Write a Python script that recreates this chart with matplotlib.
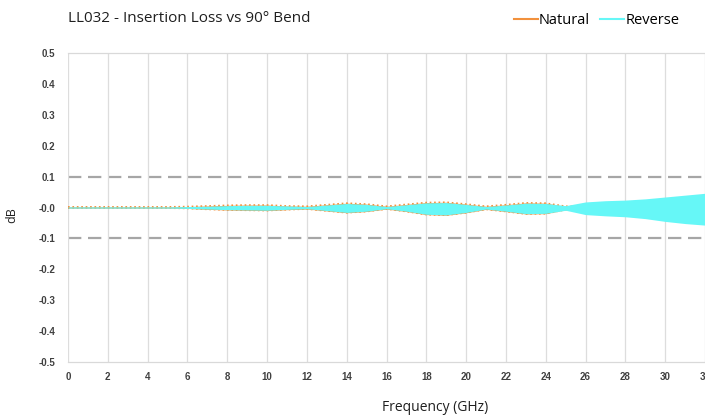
import numpy as np
import matplotlib
matplotlib.use('Agg')
import matplotlib.pyplot as plt

freq = list(range(0, 33))
nat_hi = [0.002, 0.002, 0.002, 0.002, 0.002, 0.002, 0.003, 0.005, 0.007, 0.008, 0.008,
          0.005, 0.004, 0.009, 0.014, 0.011, 0.004, 0.010, 0.016, 0.017, 0.011,
          0.004, 0.009, 0.015, 0.014, 0.004, 0.003, 0.004, 0.004, 0.006, 0.008, 0.010, 0.012]
nat_lo = [-0.002, -0.002, -0.002, -0.002, -0.002, -0.002, -0.003, -0.006, -0.008, -0.009, -0.010,
          -0.007, -0.005, -0.011, -0.017, -0.013, -0.005, -0.013, -0.023, -0.025, -0.017,
          -0.006, -0.013, -0.021, -0.020, -0.007, -0.012, -0.014, -0.015, -0.017, -0.020, -0.022, -0.025]
rev_hi = [0.002, 0.002, 0.002, 0.002, 0.002, 0.002, 0.003, 0.004, 0.006, 0.007, 0.007,
          0.005, 0.003, 0.008, 0.013, 0.010, 0.003, 0.009, 0.015, 0.016, 0.010,
          0.003, 0.008, 0.014, 0.013, 0.006, 0.018, 0.022, 0.024, 0.028, 0.034, 0.040, 0.046]
rev_lo = [-0.002, -0.002, -0.002, -0.002, -0.002, -0.002, -0.003, -0.005, -0.007, -0.008, -0.009,
          -0.006, -0.004, -0.010, -0.016, -0.012, -0.004, -0.012, -0.022, -0.024, -0.016,
          -0.005, -0.012, -0.020, -0.019, -0.009, -0.023, -0.027, -0.030, -0.036, -0.045, -0.052, -0.057]
limits = [0.1, -0.1]

orange = '#F2913D'
cyan = '#66F7F7'
font = 'Open Sans'

fig = plt.figure(figsize=(7.05, 4.19), dpi=100)
ax = fig.add_axes([68/705, 57/419, 1 - 68/705, 309/419])

ax.fill_between(freq, nat_lo, nat_hi, color=orange, linewidth=0, zorder=2)
ax.plot(freq, nat_hi, color=orange, linewidth=1.2, linestyle=':', zorder=2.5)
ax.plot(freq, nat_lo, color=orange, linewidth=1.2, linestyle=':', zorder=2.5)
ax.fill_between(freq, rev_lo, rev_hi, color=cyan, linewidth=0, zorder=3)

for y in limits:
    ax.axhline(y, color='#A6A6A6', linewidth=1.6, dashes=(6, 3), zorder=1)

# legend proxies
p1, = ax.plot([], [], color=orange, linewidth=1.5)
p2, = ax.plot([], [], color=cyan, linewidth=1.5)
fig.legend([p1, p2], ['Natural', 'Reverse'], loc='center right', bbox_to_anchor=(0.982, 0.952),
           ncol=2, frameon=False, handlelength=1.6, handletextpad=0.1, columnspacing=0.7,
           prop={'family': font, 'size': 10.5})

ax.set_xlim(0, 32)
ax.set_ylim(-0.5, 0.5)
ax.set_xticks(range(0, 33, 2))
ax.set_yticks(np.round(np.arange(-0.5, 0.51, 0.1), 1))
ax.set_yticklabels(['%.1f' % v for v in np.round(np.arange(-0.5, 0.51, 0.1), 1)])
ax.tick_params(length=0, labelsize=7, colors='#404040')
ax.tick_params(axis='y', pad=9)
ax.tick_params(axis='x', pad=7)
for lbl in ax.get_xticklabels() + ax.get_yticklabels():
    lbl.set_fontweight('bold')
    lbl.set_family('Liberation Sans')

ax.grid(axis='x', color='#DDDDDD', linewidth=0.9, zorder=0)
for s in ['top', 'bottom']:
    ax.spines[s].set_color('#D9D9D9')
    ax.spines[s].set_linewidth(0.9)
ax.spines['left'].set_visible(False)
ax.spines['right'].set_visible(False)

fig.text(68/705, 1 - 19/419, 'LL032 - Insertion Loss vs 90° Bend', family=font, fontsize=11,
         va='center', ha='left', color='#1F1F1F')
fig.text(435/705, 12/419, 'Frequency (GHz)', family=font, fontsize=10, ha='center', va='center',
         color='#1F1F1F')
fig.text(12/705, 1 - 215/419, 'dB', family=font, fontsize=9, rotation=90, ha='center', va='center',
         color='#1F1F1F')

fig.savefig('out.png', dpi=100)
